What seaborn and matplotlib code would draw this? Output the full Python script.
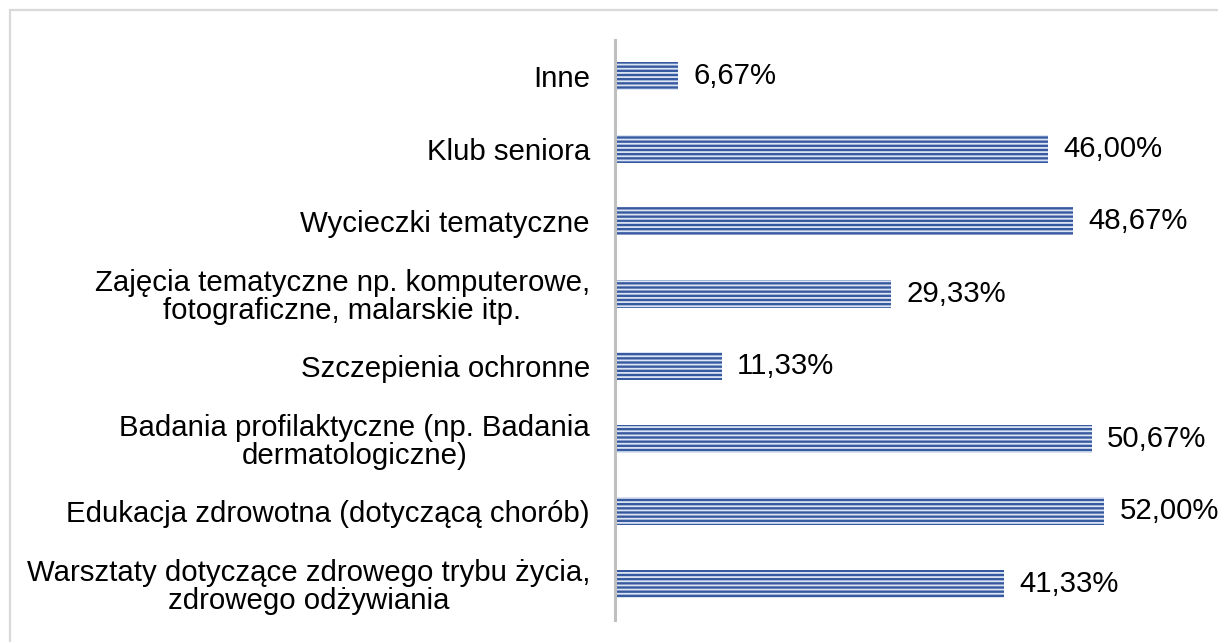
import matplotlib
matplotlib.use("Agg")
import matplotlib.pyplot as plt
import seaborn as sns
import pandas as pd
from matplotlib.patches import Rectangle

categories = [
    "Inne",
    "Klub seniora",
    "Wycieczki tematyczne",
    "Zajęcia tematyczne np. komputerowe,\nfotograficzne, malarskie itp.",
    "Szczepienia ochronne",
    "Badania profilaktyczne (np. Badania\ndermatologiczne)",
    "Edukacja zdrowotna (dotyczącą chorób)",
    "Warsztaty dotyczące zdrowego trybu życia,\nzdrowego odżywiania",
]
values = [6.67, 46.00, 48.67, 29.33, 11.33, 50.67, 52.00, 41.33]

sns.set_theme(style="white")
plt.rcParams["font.family"] = ["Liberation Sans", "DejaVu Sans"]
plt.rcParams["hatch.linewidth"] = 1.3

df = pd.DataFrame({"cat": categories, "val": values})

W, H = 1218, 642
fig = plt.figure(figsize=(W / 100, H / 100), dpi=100)
fig.patch.set_facecolor("white")

ax = fig.add_axes([615 / W, 22 / H, 603 / W, 580 / H])
sns.barplot(data=df, x="val", y="cat", orient="h", ax=ax, width=0.39,
            color="#36599f", saturation=1)

for p in ax.patches:
    p.set_hatch("----")
    p.set_edgecolor("#dbe5f3")
    p.set_linewidth(0)

ax.set_xlim(0, 64.1)
ax.set_ylim(7.5, -0.5)
ax.set_xlabel("")
ax.set_ylabel("")
ax.set_xticks([])
ax.tick_params(axis="y", length=0, pad=18, labelsize=21.2, labelcolor="black")
for lab in ax.get_yticklabels():
    lab.set_multialignment("center")
    lab.set_linespacing(1.0)

for s in ["top", "right", "bottom"]:
    ax.spines[s].set_visible(False)
ax.spines["left"].set_color("#bfbfbf")
ax.spines["left"].set_linewidth(2.2)

labels = [f"{v:.2f}%".replace(".", ",") for v in values]
ax.bar_label(ax.containers[0], labels=labels, padding=11, fontsize=21.2, color="black")

fig.add_artist(Rectangle((10 / W, -0.1), 1.2, 1.1 - 10 / H, transform=fig.transFigure,
                         fill=False, edgecolor="#d9d9d9", linewidth=1.6))

fig.savefig("out.png", dpi=100)
